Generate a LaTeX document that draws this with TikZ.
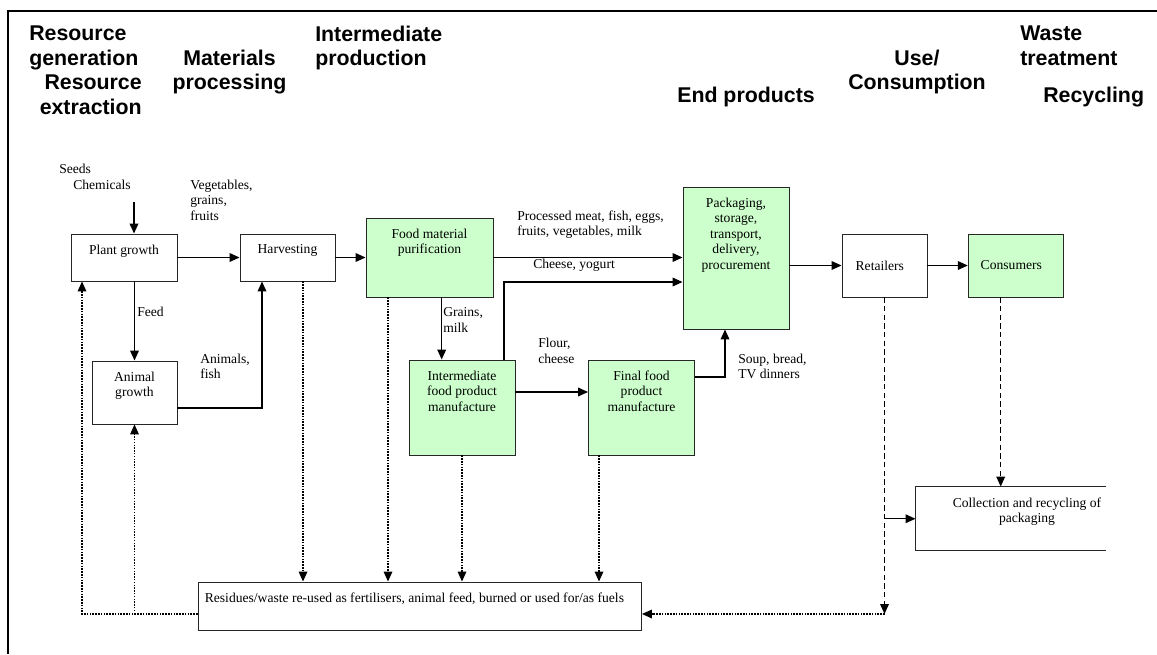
\documentclass[tikz,border=0pt]{standalone}
\usepackage{fontspec}
\setmainfont{Liberation Serif}
\newfontfamily\headfont{Liberation Sans}
\usetikzlibrary{arrows.meta}
\definecolor{foodgreen}{HTML}{CCFFCC}

\begin{document}
\begin{tikzpicture}
  [x=0.75pt,y=-0.75pt,
   every node/.style={font=\fontsize{10.2}{11.6}\selectfont},
   head/.style={inner sep=0pt,font=\headfont\bfseries\fontsize{16}{18.2}\selectfont},
   note/.style={inner sep=0pt,anchor=west,align=left},
   box/.style={draw=black!85,line width=0.7pt,fill=white,inner sep=0pt},
   gbox/.style={box,fill=foodgreen},
   intext/.style={anchor=north,yshift=-5pt,align=center},
   flow/.style={line width=1.1pt,-{Triangle[length=7.5pt,width=6.5pt]}},
   waste/.style={flow,densely dotted,line width=0.9pt},
   retour/.style={flow,dash pattern=on 4pt off 2.5pt}]
  \useasboundingbox (0,0) rectangle (1157,654);
  \draw[line width=1.5pt] (1157,11) -- (8,11) -- (8,654);

  % stage headings
  \node[head,anchor=north west,align=left] (gen) at (29,26) {Resource\\generation};
  \node[head,anchor=north east,align=right] (ext) at (142,75) {Resource\\extraction};
  \node[head,anchor=north,align=center] (mat) at (229.5,50) {Materials\\processing};
  \node[head,anchor=north west,align=left] (intp) at (315,26) {Intermediate\\production};
  \node[head,anchor=north west] (endp) at (677,87) {End products};
  \node[head,anchor=north,align=center] (use) at (917,50) {Use/\\Consumption};
  \node[head,anchor=north west,align=left] (waste) at (1020,26) {Waste\\treatment};
  \node[head,anchor=north west] (recyc) at (1043,87) {Recycling};

  % boxes
  \node[box,minimum width=79.5pt,minimum height=35.25pt,
        label={[intext]north:Plant growth}] (plant) at (124,257.5) {};
  \node[box,minimum width=71.25pt,minimum height=35.25pt,
        label={[intext]north:Harvesting}] (harv) at (287.5,257.5) {};
  \node[gbox,minimum width=95.25pt,minimum height=59.25pt,
        label={[intext]north:Food material\\purification}] (pur) at (429.5,257.5) {};
  \node[box,minimum width=63.75pt,minimum height=47.25pt,
        label={[intext]north:Animal\\growth}] (animal) at (134.5,392.5) {};
  \node[gbox,minimum width=79.5pt,minimum height=71.25pt,
        label={[intext]north:Intermediate\\food product\\manufacture}] (inter) at (462,407.5) {};
  \node[gbox,minimum width=79.5pt,minimum height=71.25pt,
        label={[intext]north:Final food\\product\\manufacture}] (final) at (641.5,407.5) {};
  \node[gbox,minimum width=79.5pt,minimum height=106.5pt,
        label={[intext]north:Packaging,\\storage,\\transport,\\delivery,\\procurement}] (pack) at (736,258) {};
  \node[box,minimum width=63.75pt,minimum height=47.25pt,
        label={[xshift=-3.5pt]center:Retailers}] (ret) at (884.5,265.5) {};
  \node[gbox,minimum width=71.6pt,minimum height=47.25pt,
        label={[xshift=-3.5pt]center:Consumers}] (cons) at (1016,265.5) {};
  \node[box,draw=none,fill=none,minimum width=142.5pt,minimum height=47.6pt,
        label={[intext,xshift=12pt]north:Collection and recycling of\\packaging}] (coll) at (1011,518.75) {};
  \draw[black!85,line width=0.7pt] (coll.north east) -| (coll.south west) -- (coll.south east);
  \node[box,minimum width=332.6pt,minimum height=36pt,
        label={[intext,xshift=-4pt]north:Residues/waste re-used as fertilisers, animal feed, burned or used for/as fuels}] (res) at (419.75,606) {};

  % flow labels
  \node[note] (seeds) at (59,169) {Seeds};
  \node[note] (chem) at (73,184.5) {Chemicals};
  \node[note] (veg) at (190,200) {Vegetables,\\grains,\\fruits};
  \node[note] (feed) at (137,312) {Feed};
  \node[note] (anim) at (200,366.5) {Animals,\\fish};
  \node[note] (procl) at (517,224.5) {Processed meat, fish, eggs,\\fruits, vegetables, milk};
  \node[note] (cheesel) at (533,265) {Cheese, yogurt};
  \node[note] (grainl) at (443,320) {Grains,\\milk};
  \node[note] (flourl) at (538,351) {Flour,\\cheese};
  \node[note] (soupl) at (738,366.5) {Soup, bread,\\TV dinners};

  % main flows
  \coordinate (in) at (134,202);
  \draw[flow] (in) -- (in |- plant.north);
  \draw[flow] (plant) -- (harv);
  \draw[flow] (harv) -- (pur);
  \draw[flow] (plant.south -| animal) -- (animal);
  \draw[flow] (animal.east |- 0,408) -| (harv.south -| 262,0);
  \draw[flow] (pur.east) -- (pur.east -| pack.west);
  \draw[flow] (pur.south -| 441.7,0) -- (inter.north -| 441.7,0);
  \draw[flow] (inter.north -| 504,0) |- (pack.west |- 0,282);
  \draw[flow] (inter.east |- 0,392) -- (final.west |- 0,392);
  \draw[flow] (final.east |- 0,377) -| (pack.south -| 725,0);
  \draw[flow] (pack.east |- ret) -- (ret);
  \draw[flow] (ret) -- (cons);

  % packaging returns
  \coordinate (rc) at (884.5,614);
  \draw[retour] (cons.south -| 1000.7,0) -- (coll.north -| 1000.7,0);
  \draw[retour] (ret.south) -- (rc);
  \draw[flow] (coll.west -| ret) -- (coll.west);

  % residues
  \foreach \src/\xx in {harv/303,pur/388,inter/462,final/599}
    \draw[waste] (\src.south -| \xx,0) -- (res.north -| \xx,0);
  \draw[waste] (rc) -- (res.east |- rc);
  \coordinate (lc) at (82,614);
  \draw[waste] (res.west |- lc) -| (plant.south -| lc);
  \draw[waste] (animal.south |- lc) -- (animal.south);

\end{tikzpicture}
\end{document}
